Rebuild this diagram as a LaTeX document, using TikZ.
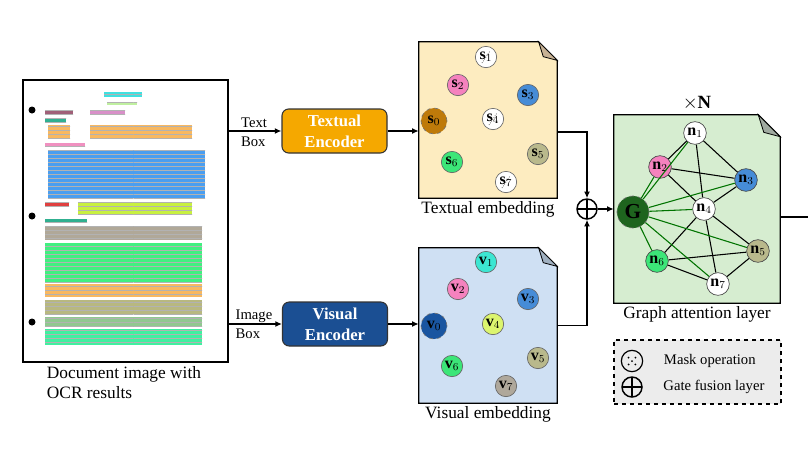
\documentclass[tikz,border=0pt]{standalone}
\usepackage{amsmath, amssymb}
\usepackage{xcolor}
\usepackage{fontspec}
\setmainfont{Liberation Serif}
\usepackage{tikz}
\usetikzlibrary{positioning, arrows.meta, patterns}

\definecolor{encorange}{RGB}{245,168,0}
\definecolor{encblue}{RGB}{27,79,147}
\definecolor{tembfill}{RGB}{253,236,192}
\definecolor{tembfold}{RGB}{200,178,148}
\definecolor{vembfill}{RGB}{207,224,243}
\definecolor{vembfold}{RGB}{160,176,192}
\definecolor{galfill}{RGB}{214,237,208}
\definecolor{galfold}{RGB}{160,170,160}
\definecolor{embpink}{RGB}{245,130,190}
\definecolor{embblue}{RGB}{70,140,215}
\definecolor{embolive}{RGB}{185,185,140}
\definecolor{embgreen}{RGB}{60,230,120}
\definecolor{embcyan}{RGB}{60,230,210}
\definecolor{emblime}{RGB}{220,245,110}
\definecolor{embgray}{RGB}{175,168,155}
\definecolor{embbrown}{RGB}{190,122,10}
\definecolor{embnavy}{RGB}{25,85,160}
\definecolor{embforest}{RGB}{30,100,30}
\definecolor{ocrcyan}{RGB}{64,224,224}
\definecolor{ocrlime}{RGB}{192,240,160}
\definecolor{ocrplum}{RGB}{160,96,120}
\definecolor{ocrorchid}{RGB}{216,144,200}
\definecolor{ocrteal}{RGB}{48,176,144}
\definecolor{ocrorange}{RGB}{248,184,96}
\definecolor{ocrpink}{RGB}{240,144,192}
\definecolor{ocrblue}{RGB}{74,158,240}
\definecolor{ocrred}{RGB}{224,64,64}
\definecolor{ocryellow}{RGB}{200,240,64}
\definecolor{ocrtaupe}{RGB}{176,168,152}
\definecolor{ocrgreen}{RGB}{64,240,128}
\definecolor{ocrolive}{RGB}{184,184,128}
\definecolor{ocrsage}{RGB}{144,200,144}
\definecolor{ocrmint}{RGB}{64,240,160}

\tikzset{
  emb/.style={circle, draw=black!60, line width=0.5pt, minimum size=16pt, inner sep=0pt, font=\fontsize{12}{12}\selectfont},
  masked/.style={emb, fill=white, path picture={\draw[densely dotted, line width=0.6pt] ([shift={(-3pt,-4.5pt)}]path picture bounding box.center) -- ([shift={(3pt,4.5pt)}]path picture bounding box.center);}},
  anchornode/.style={emb, dashed, draw=black!55, minimum size=19.5pt},
  gnode/.style={emb, draw=black!70, minimum size=17pt},
  encoder/.style={rectangle, rounded corners=5pt, draw=black!80, line width=0.8pt, minimum width=78.75pt, minimum height=33pt, text=white, align=center, font=\bfseries\fontsize{12.5}{15.5}\selectfont},
  page/.style={rectangle, inner sep=0pt},
  capt/.style={font=\fontsize{13}{14.5}\selectfont, inner sep=2pt},
  boxlbl/.style={font=\fontsize{11}{14}\selectfont, inner sep=0pt, align=left},
  link/.style={line width=1.1pt, -{Latex[length=5pt, width=4.5pt]}},
  gatefuse/.style={circle, draw, line width=1.1pt, minimum size=15pt, inner sep=0pt, path picture={\draw[line width=1.1pt] (path picture bounding box.north) -- (path picture bounding box.south) (path picture bounding box.west) -- (path picture bounding box.east);}},
  blackedge/.style={line width=0.8pt, black},
  globaledge/.style={line width=0.8pt, green!45!black},
}

\begin{document}
\begin{tikzpicture}[x=0.75pt, y=-0.75pt]
  \useasboundingbox (0,0) rectangle (808,455);

  % Document image with OCR boxes
  \node[draw, line width=1.5pt, minimum width=153.75pt, minimum height=211.5pt, inner sep=0pt] (doc) at (125.5,221) {};
  \foreach \xa/\ya/\xb/\yb/\col in {104/92/142/97/ocrcyan, 107/102/137/105/ocrlime, 45/110/73/114/ocrplum,
      90/110/125/114/ocrorchid, 45/118/66/122/ocrteal, 48/125/70/139/ocrorange, 90/125/192/139/ocrorange,
      45/143/85/147/ocrpink, 48/150/205/198/ocrblue, 45/202/69/206/ocrred, 78/202/192/215/ocryellow,
      45/219/87/223/ocrteal, 45/226/202/240/ocrtaupe, 45/243/202/282/ocrgreen, 45/284/202/297/ocrorange,
      45/300/202/314/ocrolive, 45/317/202/327/ocrsage, 45/329/202/345/ocrmint} {
    \fill[\col] (\xa,\ya) rectangle (\xb,\yb);
    \fill[pattern=horizontal lines, pattern color=black!30] (\xa,\ya) rectangle (\xb,\yb);
  }
  % binder holes
  \foreach \y in {110,216,322} {
    \fill[black] (32,\y) circle (3.5);
  }
  \node[capt, align=left, anchor=north west] (doccap) at (44,364) {Document image with\\OCR results};

  % Encoders
  \node[encoder, fill=encorange] (tenc) at (334.5,131) {Textual\\Encoder};
  \node[encoder, fill=encblue] (venc) at (335,324) {Visual\\Encoder};
  \node[boxlbl] (tboxlbl) at (254,132) {Text\\Box};
  \node[boxlbl] (iboxlbl) at (254,324) {Image\\Box};
  \draw[link] (doc.east |- tenc.west) -- (tenc.west);
  \draw[link] (doc.east |- venc.west) -- (venc.west);

  % Pages with folded corner
  \node[page, minimum width=103.5pt, minimum height=117pt] (temb) at (488,120) {};
  \node[page, minimum width=103.5pt, minimum height=116.25pt] (vemb) at (488,325.5) {};
  \node[page, minimum width=124.5pt, minimum height=141pt] (gal) at (697,209) {};
  \foreach \pg/\fc/\fd/\f in {temb/tembfill/tembfold/14, vemb/vembfill/vembfold/14, gal/galfill/galfold/16.5} {
    \draw[line width=0.9pt, fill=\fc] (\pg.north west) -- ([xshift={-\f*1pt}]\pg.north east)
      -- ([yshift={-\f*1pt}]\pg.north east) -- (\pg.south east) -- (\pg.south west) -- cycle;
    \draw[line width=0.6pt, fill=\fd] ([xshift={-\f*1pt}]\pg.north east) -- ([yshift={-\f*1pt}]\pg.north east)
      -- ([xshift={-0.75*\f*1pt}, yshift={-0.8*\f*1pt}]\pg.north east) -- cycle;
  }
  \draw[link] (tenc.east) -- (tenc.east -| temb.west);
  \draw[link] (venc.east) -- (venc.east -| vemb.west);
  \node[capt, below=0pt of temb] (tembcap) {Textual embedding};
  \node[capt, below=0pt of vemb] (vembcap) {Visual embedding};
  \node[capt, below=0pt of gal] (galcap) {Graph attention layer};
  \node[font=\fontsize{14}{14}\selectfont, above=0pt of gal] (reps) {$\times\mathbf{N}$};

  % Textual embedding
  \node[anchornode, fill=embbrown] (s0) at (434,121) {$\mathbf{s}_0$};
  \node[masked] (s1) at (486,57) {$\mathbf{s}_1$};
  \node[emb, fill=embpink] (s2) at (458,85) {$\mathbf{s}_2$};
  \node[emb, fill=embblue] (s3) at (528,95) {$\mathbf{s}_3$};
  \node[masked] (s4) at (493,119) {$\mathbf{s}_4$};
  \node[emb, fill=embolive] (s5) at (538,154) {$\mathbf{s}_5$};
  \node[emb, fill=embgreen] (s6) at (452,162) {$\mathbf{s}_6$};
  \node[masked] (s7) at (506,182) {$\mathbf{s}_7$};

  % Visual embedding
  \node[anchornode, fill=embnavy] (v0) at (434,326) {$\mathbf{v}_0$};
  \node[emb, fill=embcyan] (v1) at (486,262) {$\mathbf{v}_1$};
  \node[emb, fill=embpink] (v2) at (458,289) {$\mathbf{v}_2$};
  \node[emb, fill=embblue] (v3) at (528,299) {$\mathbf{v}_3$};
  \node[emb, fill=emblime] (v4) at (493,324) {$\mathbf{v}_4$};
  \node[emb, fill=embolive] (v5) at (538,358) {$\mathbf{v}_5$};
  \node[emb, fill=embgreen] (v6) at (452,366) {$\mathbf{v}_6$};
  \node[emb, fill=embgray] (v7) at (506,386) {$\mathbf{v}_7$};

  % Gate fusion
  \node[gatefuse] (gate) at (587,209) {};
  \draw[link] ([yshift=-9pt]temb.east) -| (gate.north);
  \draw[link] (vemb.east) -| (gate.south);
  \draw[link] (gate.east) -- (gate.east -| gal.west);

  % Graph attention layer
  \node[anchornode, fill=embforest, minimum size=24pt, font=\fontsize{16}{16}\selectfont] (G) at (633,212) {$\mathbf{G}$};
  \node[gnode, fill=white] (n1) at (695,133) {$\mathbf{n}_1$};
  \node[gnode, fill=embpink] (n2) at (660,167) {$\mathbf{n}_2$};
  \node[gnode, fill=embblue] (n3) at (746,180) {$\mathbf{n}_3$};
  \node[gnode, fill=white] (n4) at (704,209) {$\mathbf{n}_4$};
  \node[gnode, fill=embolive] (n5) at (758,251) {$\mathbf{n}_5$};
  \node[gnode, fill=embgreen] (n6) at (657,261) {$\mathbf{n}_6$};
  \node[gnode, fill=white] (n7) at (718,284) {$\mathbf{n}_7$};
  \foreach \a/\b in {n1/n2, n1/n3, n1/n4, n2/n3, n2/n4, n3/n4, n4/n5, n4/n6, n4/n7, n5/n6, n6/n7, n7/n5} {
    \draw[blackedge] (\a) -- (\b);
  }
  \foreach \b in {n1,n2,n3,n4,n5,n6,n7} {
    \draw[globaledge] (G) -- (\b);
  }
  \coordinate (out) at (808,217);
  \draw[line width=1.1pt] (gal.east |- out) -- (out);

  % Legend
  \node[draw, dashed, fill=gray!15, line width=0.8pt, minimum width=125.25pt, minimum height=48pt] (legend) at (697.5,372) {};
  \node[circle, draw, line width=0.9pt, minimum size=16pt, inner sep=0pt] (mask) at (632,361) {};
  \foreach \dx/\dy in {0/0, 2.6/2.6, -2.6/2.6, 2.6/-2.6, -2.6/-2.6} {
    \fill ([shift={(\dx pt,\dy pt)}]mask.center) circle (1);
  }
  \node[gatefuse] (gleg) at (632,387) {};
  \node[font=\fontsize{11}{13}\selectfont, right=12pt of mask] (masktxt) {Mask operation};
  \node[font=\fontsize{11}{13}\selectfont, right=12pt of gleg] (gatetxt) {Gate fusion layer};
\end{tikzpicture}
\end{document}
